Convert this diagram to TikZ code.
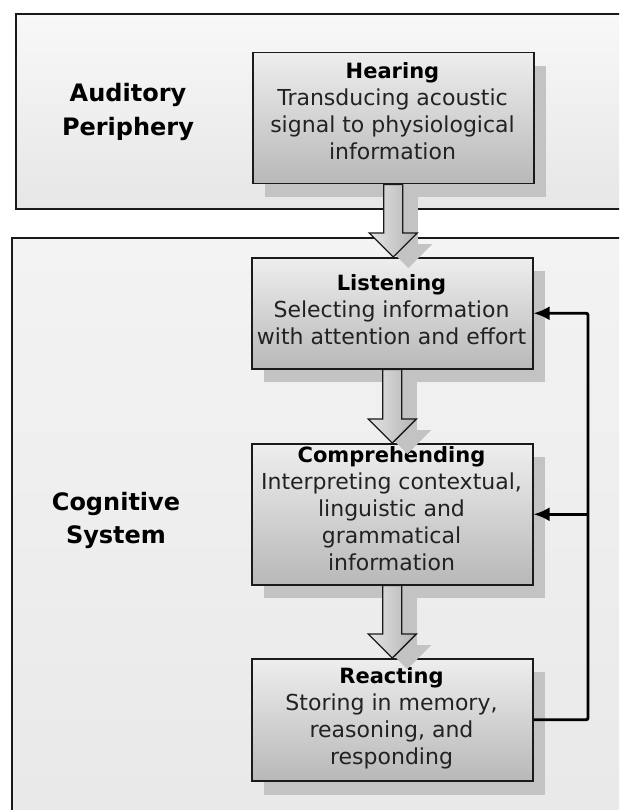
\documentclass[tikz,border=0pt]{standalone}
\usepackage{fontspec}
\setmainfont{DejaVu Sans}
\usetikzlibrary{arrows.meta,calc}
\definecolor{regAtop}{HTML}{F8F8F8}
\definecolor{regAbot}{HTML}{E6E6E6}
\definecolor{regBtop}{HTML}{F3F3F3}
\definecolor{regBbot}{HTML}{E8E8E8}
\definecolor{boxtop}{HTML}{EEEEEE}
\definecolor{boxbot}{HTML}{B8B8B8}
\definecolor{shadowgray}{HTML}{C3C3C3}
\definecolor{arrowleft}{HTML}{E4E4E4}
\definecolor{arrowright}{HTML}{B4B4B4}
\definecolor{edge}{HTML}{1A1A1A}
\definecolor{bodytext}{HTML}{222222}
\tikzset{
  region/.style={draw=edge, line width=1.6pt, anchor=north west, inner sep=0pt},
  procbox/.style={draw=edge, line width=1.5pt, anchor=north west, inner sep=0pt,
    minimum width=281pt, top color=boxtop, bottom color=boxbot},
  shadowbox/.style={fill=shadowgray},
  proctext/.style={anchor=base, inner sep=0pt, text=bodytext,
    font=\fontsize{22}{27}\selectfont},
  regionlabel/.style={anchor=base, inner sep=0pt, text=black,
    font=\fontsize{24}{33.5}\selectfont\bfseries},
  fbline/.style={draw=black, line width=2.9pt, rounded corners=2pt},
  fbtip/.style={-{Latex[length=16pt,width=14pt]}},
  blockarrow/.style={draw=edge, line width=1.4pt, left color=arrowleft,
    right color=arrowright, line join=miter},
  arrowshadow/.style={fill=shadowgray},
}
\newcommand\proctitle[1]{{\fontsize{21}{27}\selectfont\bfseries\color{black}#1}}
% #1 from node, #2 to node, #3 style, #4 x offset, #5 y offset (canvas)
\newcommand\blockarr[5]{%
  \path[#3] let \p1=(#1.south), \p2=(#2.north) in
    ({\x1-9.5pt+#4},{\y1+#5}) -- ({\x1-9.5pt+#4},{\y2+24pt+#5})
    -- ({\x1-24pt+#4},{\y2+24pt+#5}) -- ({\x1+#4},{\y2+#5})
    -- ({\x1+24pt+#4},{\y2+24pt+#5}) -- ({\x1+9.5pt+#4},{\y2+24pt+#5})
    -- ({\x1+9.5pt+#4},{\y1+#5}) -- cycle;}
\begin{document}
\begin{tikzpicture}[x=1pt,y=-1pt]
\useasboundingbox (0,0) rectangle (619,810);
\clip (0,0) rectangle (619,810);
\fill[white] (0,0) rectangle (619,810);

% regions
\node[region, top color=regAtop, bottom color=regAbot,
  minimum width=640pt, minimum height=195pt] (periphery) at (15,13) {};
\node[region, top color=regBtop, bottom color=regBbot,
  minimum width=640pt, minimum height=620pt] (cognitive) at (11,237) {};

\node[regionlabel] (periphlabel) at (128,102)
  {\begin{tabular}[t]{@{}c@{}}Auditory\\Periphery\end{tabular}};
\node[regionlabel] (coglabel) at (116,510)
  {\begin{tabular}[t]{@{}c@{}}Cognitive\\System\end{tabular}};

% box shadows
\fill[shadowbox] (265,66) rectangle (546,197);
\fill[shadowbox] (264,271) rectangle (545,382);
\fill[shadowbox] (264,457) rectangle (545,598);
\fill[shadowbox] (264,672) rectangle (545,795);

% process boxes
\node[procbox, minimum height=131pt] (hearing) at (252,52) {};
\node[procbox, minimum height=111pt] (listening) at (251,257) {};
\node[procbox, minimum height=141pt] (comprehending) at (251,443) {};
\node[procbox, minimum height=122pt] (reacting) at (251,658) {};

\node[proctext] (hearingtxt) at (392.5,79)
  {\begin{tabular}[t]{@{}c@{}}\proctitle{Hearing}\\Transducing acoustic\\signal to physiological\\information\end{tabular}};
\node[proctext] (listeningtxt) at (391.5,290)
  {\begin{tabular}[t]{@{}c@{}}\proctitle{Listening}\\Selecting information\\with attention and effort\end{tabular}};
\node[proctext] (comprehendingtxt) at (391.5,462)
  {\begin{tabular}[t]{@{}c@{}}\proctitle{Comprehending}\\Interpreting contextual,\\linguistic and\\grammatical\\information\end{tabular}};
\node[proctext] (reactingtxt) at (391.5,683)
  {\begin{tabular}[t]{@{}c@{}}\proctitle{Reacting}\\Storing in memory,\\reasoning, and\\responding\end{tabular}};

% block arrows: shadows then arrows
\blockarr{hearing}{listening}{arrowshadow}{15pt}{-11pt}
\blockarr{listening}{comprehending}{arrowshadow}{15pt}{-11pt}
\blockarr{comprehending}{reacting}{arrowshadow}{15pt}{-11pt}
\blockarr{hearing}{listening}{blockarrow}{0pt}{0pt}
\blockarr{listening}{comprehending}{blockarrow}{0pt}{0pt}
\blockarr{comprehending}{reacting}{blockarrow}{0pt}{0pt}

% feedback loop
\coordinate (fbx) at (588,0);
\draw[fbline, fbtip] (reacting.east) -| (fbx |- listening.east) -- (listening.east);
\draw[fbline, fbtip] (fbx |- comprehending.east) -- (comprehending.east);
\end{tikzpicture}
\end{document}
